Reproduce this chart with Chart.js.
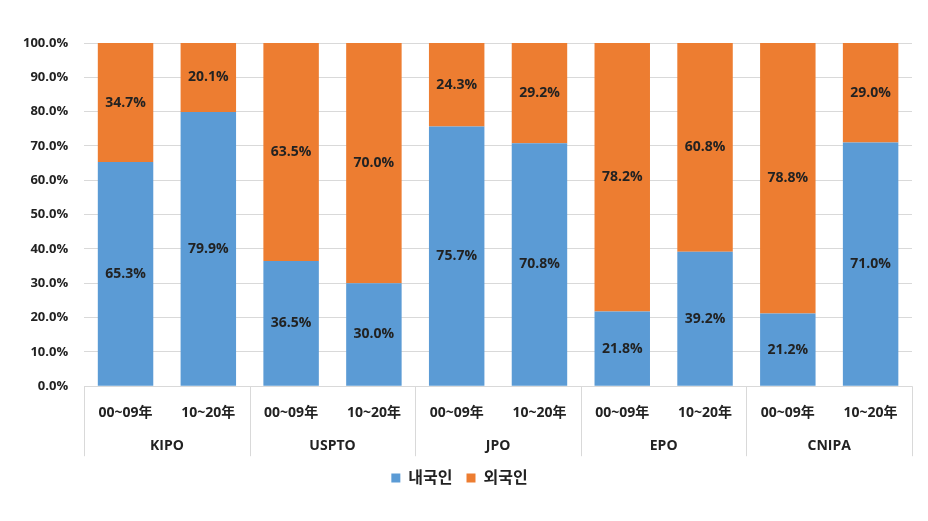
<!DOCTYPE html>
<html>
<head>
<meta charset="utf-8">
<script src="https://cdn.jsdelivr.net/npm/chart.js@4"></script>
<style>
  html, body { margin: 0; padding: 0; background: #fff; }
  #wrap { width: 928px; height: 521px; }
</style>
</head>
<body>
<div id="wrap"><canvas id="c" width="928" height="521"></canvas></div>
<script>
var groups = ["KIPO", "USPTO", "JPO", "EPO", "CNIPA"];
var periods = ["00~09年", "10~20年", "00~09年", "10~20年", "00~09年", "10~20年", "00~09年", "10~20年", "00~09年", "10~20年"];
var domestic = [65.3, 79.9, 36.5, 30.0, 75.7, 70.8, 21.8, 39.2, 21.2, 71.0];
var foreign = [34.7, 20.1, 63.5, 70.0, 24.3, 29.2, 78.2, 60.8, 78.8, 29.0];

var FONT = "'Open Sans', 'Noto Sans CJK KR', sans-serif";

var barLabels = {
  id: "barLabels",
  afterDatasetsDraw: function(chart){
    var ctx = chart.ctx;
    ctx.save();
    ctx.font = "bold 14px " + FONT;
    ctx.fillStyle = "#222";
    ctx.textAlign = "center";
    ctx.textBaseline = "middle";
    chart.data.datasets.forEach(function(ds, di){
      chart.getDatasetMeta(di).data.forEach(function(bar, i){
        ctx.fillText(ds.data[i].toFixed(1) + "%", bar.x, (bar.y + bar.base) / 2);
      });
    });
    ctx.restore();
  }
};

var groupAxis = {
  id: "groupAxis",
  afterDraw: function(chart){
    var ctx = chart.ctx, x = chart.scales.x, area = chart.chartArea;
    var w = x.width / periods.length;
    ctx.save();
    ctx.strokeStyle = "#d9d9d9";
    ctx.lineWidth = 1;
    for (var k = 0; k <= groups.length; k++) {
      var px = Math.round(x.left + k * 2 * w) + 0.5;
      ctx.beginPath();
      ctx.moveTo(px, area.bottom);
      ctx.lineTo(px, area.bottom + 70);
      ctx.stroke();
    }
    ctx.font = "bold 14px " + FONT;
    ctx.fillStyle = "#222";
    ctx.textAlign = "center";
    ctx.textBaseline = "middle";
    groups.forEach(function(g, i){
      ctx.fillText(g, x.left + (i * 2 + 1) * w, area.bottom + 60);
    });
    ctx.restore();
  }
};

new Chart(document.getElementById("c").getContext("2d"), {
  type: "bar",
  data: {
    labels: periods,
    datasets: [
      { label: "내국인", data: domestic, backgroundColor: "#5B9BD5" },
      { label: "외국인", data: foreign, backgroundColor: "#ED7D31" }
    ]
  },
  options: {
    responsive: false,
    animation: false,
    layout: { padding: { left: 7, right: 16, top: 43, bottom: 25 } },
    datasets: { bar: { categoryPercentage: 1, barPercentage: 0.67 } },
    scales: {
      x: {
        stacked: true,
        grid: { display: false },
        border: { display: false },
        ticks: { color: "#222", font: { family: FONT, size: 14, weight: "bold" }, padding: 10, maxRotation: 0, autoSkip: false },
        afterFit: function(scale){ scale.height += 25; }
      },
      y: {
        stacked: true,
        min: 0, max: 100,
        border: { display: false },
        grid: { color: "#d9d9d9", drawTicks: false },
        ticks: {
          stepSize: 10, padding: 16, color: "#222",
          font: { family: FONT, size: 13, weight: "bold" },
          callback: function(v){ return v.toFixed(1) + "%"; }
        }
      }
    },
    plugins: {
      legend: {
        position: "bottom",
        labels: { boxWidth: 9, boxHeight: 9, color: "#222", font: { family: FONT, size: 16, weight: "bold" }, padding: 14 }
      },
      tooltip: { enabled: false }
    }
  },
  plugins: [barLabels, groupAxis]
});
</script>
</body>
</html>
